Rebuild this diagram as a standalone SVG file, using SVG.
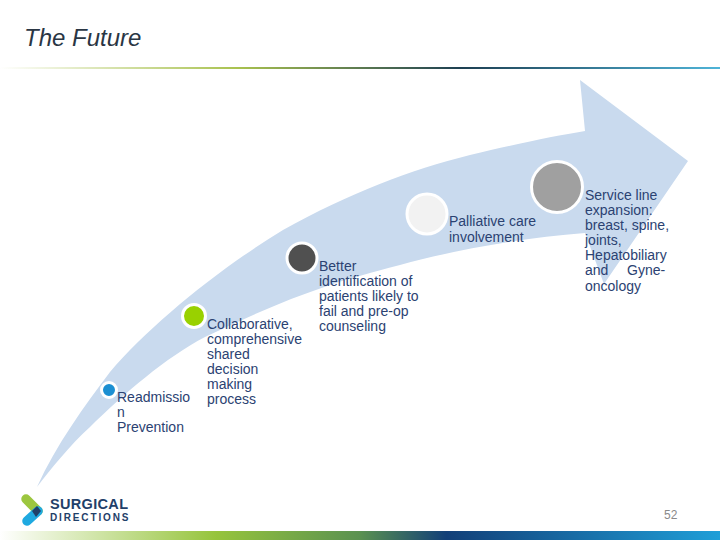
<svg xmlns="http://www.w3.org/2000/svg" width="720" height="540" viewBox="0 0 720 540">
<defs>
<linearGradient id="topline" x1="0" x2="720" y1="0" y2="0" gradientUnits="userSpaceOnUse">
<stop offset="0" stop-color="#ffffff"/><stop offset="0.33" stop-color="#a9c24f"/><stop offset="0.64" stop-color="#1d3f52"/><stop offset="1" stop-color="#4fb4d8"/>
</linearGradient>
<linearGradient id="bottomline" x1="0" x2="720" y1="0" y2="0" gradientUnits="userSpaceOnUse">
<stop offset="0" stop-color="#ffffff"/><stop offset="0.3" stop-color="#96c43c"/><stop offset="0.5" stop-color="#5a9150"/><stop offset="0.62" stop-color="#123f78"/><stop offset="1" stop-color="#1f9fd8"/>
</linearGradient>
<style>
.t{font-family:"Liberation Sans",Arial,sans-serif;font-size:14px;fill:#2b4272}
.ring{stroke:#ffffff;stroke-width:3}
.logo{font-family:"Liberation Sans",Arial,sans-serif;font-weight:bold;fill:#1f4069}
</style>
</defs>
<rect width="720" height="540" fill="#ffffff"/>
<text x="24" y="46" font-family="'Liberation Sans',Arial,sans-serif" font-size="24" font-style="italic" fill="#2a3644">The Future</text>
<rect x="0" y="67" width="720" height="2" fill="url(#topline)"/>
<rect x="0" y="531" width="720" height="9" fill="url(#bottomline)"/>
<path id="arrow" d="M37 487 C56 445 85 405 110 372 C150 325 220 268 283 230 C350 193 410 170 470 155 C520 143 555 136 585 131 L580 80 L688 161 L604 284 L585 233 C520 238 455 250 400 265 C370 273 350 278 330 285 C285 300 245 318 205 337 C165 358 125 393 90 427 C70 445 50 470 37 487 Z" fill="#c9daee"/>
<g id="node-readmission">
<circle class="ring" cx="109" cy="390" r="7.5" fill="#1b8fd2"/>
<text class="t"><tspan x="117" y="402">Readmissio</tspan><tspan x="117" y="417">n</tspan><tspan x="117" y="432">Prevention</tspan></text>
</g>
<g id="node-collaborative">
<circle class="ring" cx="194" cy="316" r="11.5" fill="#99d100"/>
<text class="t"><tspan x="207" y="329">Collaborative,</tspan><tspan x="207" y="344">comprehensive</tspan><tspan x="207" y="359">shared</tspan><tspan x="207" y="374">decision</tspan><tspan x="207" y="389">making</tspan><tspan x="207" y="404">process</tspan></text>
</g>
<g id="node-identification">
<circle class="ring" cx="302" cy="258" r="15" fill="#505050"/>
<text class="t"><tspan x="319" y="271">Better</tspan><tspan x="319" y="286">identification of</tspan><tspan x="319" y="301">patients likely to</tspan><tspan x="319" y="316">fail and pre-op</tspan><tspan x="319" y="331">counseling</tspan></text>
</g>
<g id="node-palliative">
<circle class="ring" cx="427" cy="214" r="20" fill="#f2f2f2"/>
<text class="t"><tspan x="449" y="226">Palliative care</tspan><tspan x="449" y="242">involvement</tspan></text>
</g>
<g id="node-service">
<circle class="ring" cx="557" cy="187" r="25.5" fill="#a0a0a0"/>
<text class="t"><tspan x="585" y="200">Service line</tspan><tspan x="585" y="215">expansion:</tspan><tspan x="585" y="230">breast, spine,</tspan><tspan x="585" y="245">joints,</tspan><tspan x="585" y="260">Hepatobiliary</tspan><tspan x="585" y="275">and</tspan><tspan x="627" y="275">Gyne-</tspan><tspan x="585" y="291">oncology</tspan></text>
</g>
<g id="logo">
<path d="M26 499 L38 511" stroke="#9cc63f" stroke-width="9.5" stroke-linecap="round" fill="none"/>
<path d="M38 511 L27 521" stroke="#1fa9e0" stroke-width="9.5" stroke-linecap="round" fill="none"/>
<path d="M32 511 L37 506 L41 511 L36 517 Z" fill="#1f4069"/>
<text class="logo" x="50" y="509" font-size="14.5" textLength="78" lengthAdjust="spacing">SURGICAL</text>
<text class="logo" x="50" y="521" font-size="10" textLength="78.5" lengthAdjust="spacing">DIRECTIONS</text>
</g>
<text x="664" y="519" font-family="'Liberation Sans',Arial,sans-serif" font-size="12" fill="#8a8a8a">52</text>
</svg>
